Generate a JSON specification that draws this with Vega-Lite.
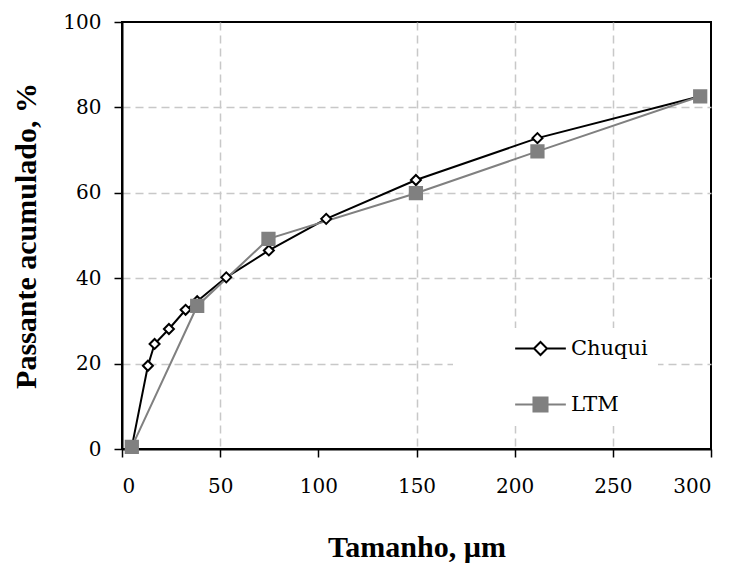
{
  "$schema": "https://vega.github.io/schema/vega-lite/v6.json",
  "width": 589,
  "height": 427,
  "autosize": "none",
  "padding": {"left": 122, "top": 22, "right": 23, "bottom": 114},
  "background": "white",
  "config": {
    "view": {"stroke": "black", "strokeWidth": 2},
    "axis": {
      "labelFont": "DejaVu Serif",
      "labelFontSize": 20,
      "labelColor": "black",
      "titleFont": "Liberation Serif",
      "titleFontSize": 30,
      "titleFontWeight": "bold",
      "titleColor": "black",
      "domainColor": "black",
      "domainWidth": 2,
      "tickColor": "black",
      "tickWidth": 1.5,
      "tickSize": 8,
      "gridColor": "#c8c8c8",
      "gridWidth": 1.5,
      "gridDash": [8, 5],
      "gridOpacity": {"condition": {"test": "datum.value === 0 || datum.value === 100 || datum.value === 300", "value": 0}, "value": 1}
    }
  },
  "data": {
    "values": [
      {"series": "Chuqui", "size": 5, "pass": 0.5},
      {"series": "Chuqui", "size": 13.2, "pass": 19.5},
      {"series": "Chuqui", "size": 16.6, "pass": 24.6},
      {"series": "Chuqui", "size": 23.9, "pass": 28.1},
      {"series": "Chuqui", "size": 32.4, "pass": 32.6},
      {"series": "Chuqui", "size": 38.3, "pass": 34.6},
      {"series": "Chuqui", "size": 53.1, "pass": 40.2},
      {"series": "Chuqui", "size": 74.8, "pass": 46.5},
      {"series": "Chuqui", "size": 104, "pass": 53.9},
      {"series": "Chuqui", "size": 149.7, "pass": 63.0},
      {"series": "Chuqui", "size": 211.6, "pass": 72.8},
      {"series": "Chuqui", "size": 294.5, "pass": 82.6},
      {"series": "LTM", "size": 5, "pass": 0.5},
      {"series": "LTM", "size": 38.3, "pass": 33.5},
      {"series": "LTM", "size": 74.6, "pass": 49.2},
      {"series": "LTM", "size": 149.7, "pass": 59.9},
      {"series": "LTM", "size": 211.6, "pass": 69.7},
      {"series": "LTM", "size": 294.5, "pass": 82.6}
    ]
  },
  "encoding": {
    "x": {
      "field": "size", "type": "quantitative",
      "scale": {"domain": [0, 300], "nice": false},
      "axis": {
        "values": [0, 50, 100, 150, 200, 250, 300],
        "title": "Tamanho, µm",
        "labelPadding": 19,
        "titleBaseline": "alphabetic",
        "titleY": 107,
        "encode": {"ticks": {"update": {"y2": {"value": -8}}}}
      }
    },
    "y": {
      "field": "pass", "type": "quantitative",
      "scale": {"domain": [0, 100], "nice": false},
      "axis": {
        "values": [0, 20, 40, 60, 80, 100],
        "title": "Passante acumulado, %",
        "labelPadding": 13,
        "titleBaseline": "alphabetic",
        "titleX": -87,
        "titleY": 213.5,
        "encode": {"ticks": {"update": {"x2": {"value": 8}}}}
      }
    },
    "stroke": {
      "field": "series", "type": "nominal",
      "scale": {"domain": ["Chuqui", "LTM"], "range": ["black", "#808080"]},
      "legend": {
        "title": null,
        "orient": "none",
        "legendX": 331,
        "legendY": 306,
        "padding": 10,
        "fillColor": "white",
        "labelFont": "DejaVu Serif",
        "labelFontSize": 21,
        "labelColor": "black",
        "symbolSize": 169,
        "symbolStrokeWidth": 2,
        "symbolOffset": 67,
        "labelOffset": 20,
        "rowPadding": 34,
        "encode": {
          "symbols": {
            "update": {
              "shape": {"signal": "datum.value === 'Chuqui' ? 'M-3.9,0L-1,0M1,0L3.9,0M-1,0L0,-1L1,0L0,1Z' : 'M-3.9,0L-1.08,0M1.08,0L3.9,0M-1.08,-1.08L1.08,-1.08L1.08,1.08L-1.08,1.08Z'"},
              "fill": {"signal": "datum.value === 'Chuqui' ? 'white' : '#808080'"},
              "fillOpacity": {"value": 1},
              "size": {"value": 169}
            }
          }
        }
      }
    }
  },
  "layer": [
    {
      "mark": {"type": "line", "strokeWidth": 2}
    },
    {
      "transform": [{"filter": "datum.series === 'Chuqui'"}],
      "mark": {"type": "point", "shape": "diamond", "size": 100, "filled": true, "fill": "white", "strokeWidth": 2, "opacity": 1, "fillOpacity": 1}
    },
    {
      "transform": [{"filter": "datum.series === 'LTM'"}],
      "mark": {"type": "point", "shape": "square", "size": 150, "filled": true, "fill": "#808080", "strokeWidth": 2, "opacity": 1, "fillOpacity": 1}
    }
  ]
}
